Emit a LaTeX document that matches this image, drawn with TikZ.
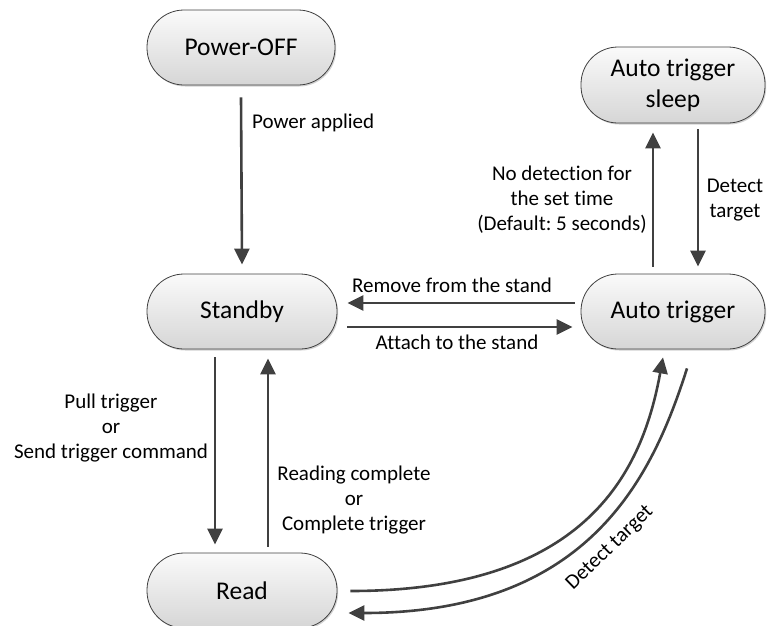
\documentclass[tikz,border=0pt]{standalone}
\usepackage{fontspec}
\setmainfont{Carlito}[Ligatures={NoCommon}]
\frenchspacing
\usetikzlibrary{arrows.meta,calc,shadows}
\definecolor{lineg}{HTML}{404040}
\definecolor{boxtop}{HTML}{FAFAFA}
\definecolor{boxbot}{HTML}{D6D6D6}
\tikzset{
  statebox/.style={draw=lineg, line width=0.8pt, rectangle, rounded corners=37pt,
    minimum height=75pt, top color=boxtop, bottom color=boxbot,
    drop shadow={shadow xshift=1.2pt, shadow yshift=-1.5pt, opacity=0.18, fill=black},
    align=center, font=\fontsize{25.5}{31}\selectfont, inner sep=0pt},
  lbl/.style={inner sep=0pt, align=center, font=\fontsize{21}{25}\selectfont},
  arr/.style={draw=lineg, line width=2.6pt, -{Triangle[length=16pt,width=15pt]}}
}
\begin{document}
\begin{tikzpicture}[x=1pt,y=-1pt]
\useasboundingbox (0,0) rectangle (768,625);
% states
\node[statebox, minimum width=188pt] (power) at (241,47.5) {Power-OFF};
\node[statebox, minimum width=190pt] (standby) at (242,311.5) {Standby};
\node[statebox, minimum width=190pt] (read) at (242,590.5) {Read};
\node[statebox, minimum width=184pt] (auto) at (673,311.5) {Auto trigger};
\node[statebox, minimum width=184pt, minimum height=76pt] (sleep) at (673,85) {Auto trigger\\sleep};
% straight transitions
\draw[arr] ($(power.south)+(0,12)$) -- ($(standby.north)+(0,-9)$);
\draw[arr] ($(standby.south)+(-27,8)$) -- ($(read.north)+(-27,-8)$);
\draw[arr] ($(read.north)+(26,-6)$) -- ($(standby.south)+(26,9)$);
\draw[arr] ($(auto.west)+(-6,-8.5)$) -- ($(standby.east)+(10,-8.5)$);
\draw[arr] ($(standby.east)+(10,15.5)$) -- ($(auto.west)+(-8,15.5)$);
\draw[arr] ($(auto.north)+(-20,-7)$) -- ($(sleep.south)+(-20,9)$);
\draw[arr] ($(sleep.south)+(25,6)$) -- ($(auto.north)+(25,-7)$);
% curved transitions
\draw[arr] ($(read.east)+(13,0.5)$) .. controls +(240,0) and +(-20,110) .. ($(auto.south)+(-10,8)$);
\draw[arr] ($(auto.south)+(14,19)$) .. controls +(-35,110) and +(240,0) .. ($(read.east)+(11,22.5)$);
% labels
\node[lbl, anchor=west] (lpow) at (252,123) {Power applied};
\node[lbl] (lpull) at (111,428) {Pull trigger\\or\\Send trigger command};
\node[lbl] (lreadc) at (354,500) {Reading complete\\or\\Complete trigger};
\node[lbl] (lremove) at (452,285) {Remove from the stand};
\node[lbl] (lattach) at (457,342) {Attach to the stand};
\node[lbl] (lnodet) at (562,200) {No detection for\\the set time\\(Default: 5 seconds)};
\node[lbl] (ldet1) at (735,200) {Detect\\target};
\node[lbl, rotate=44] (ldet2) at (610,548) {Detect target};
\end{tikzpicture}
\end{document}
